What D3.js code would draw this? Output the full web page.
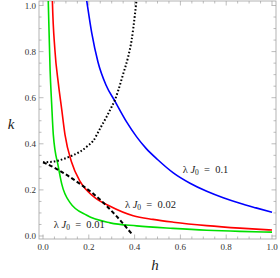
<!DOCTYPE html>
<html>
<head>
    <script src="https://d3js.org/d3.v7.min.js" charset="utf-8"></script>
    <style>
        body { margin: 0; background: #fff; }
    </style>
</head>
<body>
    <script>
        // curves: h values and matching k values
        var greenH = [0.021, 0.023, 0.031, 0.038, 0.045, 0.067, 0.082, 0.118, 0.191, 0.293, 0.409, 0.568, 0.715, 0.86, 1.0];
        var greenK = [1.1, 1.02, 0.72, 0.57, 0.44, 0.3, 0.225, 0.145, 0.09, 0.057, 0.044, 0.033, 0.025, 0.02, 0.017];
        var redH = [0.039, 0.041, 0.052, 0.067, 0.082, 0.096, 0.125, 0.162, 0.22, 0.293, 0.394, 0.48, 0.569, 0.715, 0.86, 1.0];
        var redK = [1.1, 1.02, 0.807, 0.662, 0.547, 0.44, 0.32, 0.237, 0.172, 0.129, 0.088, 0.072, 0.06, 0.045, 0.034, 0.026];
        var blueH = [0.185, 0.191, 0.213, 0.24, 0.275, 0.314, 0.365, 0.409, 0.45, 0.5, 0.569, 0.642, 0.715, 0.787, 0.86, 0.93, 1.0];
        var blueK = [1.06, 1.02, 0.88, 0.755, 0.655, 0.585, 0.495, 0.43, 0.38, 0.332, 0.274, 0.229, 0.194, 0.166, 0.142, 0.122, 0.103];
        var dotH = [0.0, 0.04, 0.089, 0.13, 0.162, 0.2, 0.22, 0.249, 0.278, 0.3, 0.314, 0.329, 0.351, 0.372, 0.387, 0.402, 0.409];
        var dotK = [0.32, 0.322, 0.334, 0.35, 0.366, 0.395, 0.414, 0.466, 0.518, 0.561, 0.59, 0.633, 0.706, 0.778, 0.85, 0.966, 1.03];
        var dashH = [0.0, 0.05, 0.09, 0.163, 0.22, 0.25, 0.322, 0.387];
        var dashK = [0.32, 0.296, 0.273, 0.225, 0.183, 0.157, 0.085, 0.01];

        var labelText = ["0.01", "0.02", "0.1"];
        var labelH = [0.047, 0.358, 0.61];
        var labelK = [0.05, 0.137, 0.287];
        var majorTicks = [0, 0.2, 0.4, 0.6, 0.8, 1.0];
        var minorTicks = d3.range(0, 21).map(function (i) { return i / 20; });

        var serif = "'Liberation Serif', 'Times New Roman', Times, 'DejaVu Serif', serif";
        var W = 280, H = 278;
        var fx = 39, fy = 1, fw = 237, fh = 238;

        var x = d3.scaleLinear().domain([0, 1]).range([43, 272]);
        var y = d3.scaleLinear().domain([0, 1]).range([236, 5.5]);

        var svg = d3.select("body").append("svg")
            .attr("width", W)
            .attr("height", H)
            .attr("font-family", serif);

        svg.append("defs").append("clipPath").attr("id", "clip")
            .append("rect").attr("x", fx).attr("y", fy).attr("width", fw).attr("height", fh);

        var frameColor = "#a0a0a0";

        // ticks on all four sides, pointing inward
        var tg = svg.append("g").attr("stroke", frameColor).attr("stroke-width", 0.7);
        minorTicks.forEach(function (t) {
            var major = majorTicks.some(function (m) { return Math.abs(m - t) < 1e-9; });
            var len = major ? 4.5 : 2.5;
            tg.append("line").attr("x1", x(t)).attr("x2", x(t)).attr("y1", fy + fh).attr("y2", fy + fh - len);
            tg.append("line").attr("x1", x(t)).attr("x2", x(t)).attr("y1", fy).attr("y2", fy + len);
            tg.append("line").attr("y1", y(t)).attr("y2", y(t)).attr("x1", fx).attr("x2", fx + len);
            tg.append("line").attr("y1", y(t)).attr("y2", y(t)).attr("x1", fx + fw).attr("x2", fx + fw - len);
        });

        svg.append("rect")
            .attr("x", fx).attr("y", fy).attr("width", fw).attr("height", fh)
            .attr("fill", "none").attr("stroke", frameColor).attr("stroke-width", 0.8);

        svg.selectAll(".xl").data(majorTicks).enter().append("text")
            .attr("x", function (d) { return x(d); })
            .attr("y", 250)
            .attr("text-anchor", "middle")
            .attr("font-size", 9)
            .attr("fill", "#333")
            .text(function (d) { return d.toFixed(1); });

        svg.selectAll(".yl").data(majorTicks).enter().append("text")
            .attr("x", 36)
            .attr("y", function (d) { return y(d) + 3.2; })
            .attr("text-anchor", "end")
            .attr("font-size", 9)
            .attr("fill", "#333")
            .text(function (d) { return d.toFixed(1); });

        svg.append("text").attr("x", 155).attr("y", 270)
            .attr("text-anchor", "middle").attr("font-size", 15).attr("font-style", "italic")
            .attr("fill", "#222").text("h");
        svg.append("text").attr("x", 11).attr("y", 129)
            .attr("text-anchor", "middle").attr("font-size", 15).attr("font-style", "italic")
            .attr("fill", "#222").text("k");

        var line = d3.line()
            .x(function (d) { return x(d[0]); })
            .y(function (d) { return y(d[1]); })
            .curve(d3.curveMonotoneX);

        var plot = svg.append("g").attr("clip-path", "url(#clip)");

        function draw(hs, ks, color, width, dash) {
            var pts = hs.map(function (h, i) { return [h, ks[i]]; });
            var p = plot.append("path").datum(pts)
                .attr("d", line)
                .attr("fill", "none")
                .attr("stroke", color)
                .attr("stroke-width", width);
            if (dash) p.attr("stroke-dasharray", dash);
        }

        draw(greenH, greenK, "#00e000", 1.6);
        draw(redH, redK, "#ff0000", 1.6);
        draw(blueH, blueK, "#0000ff", 1.6);
        draw(dotH, dotK, "#000", 2, "1.6,2");
        draw(dashH, dashK, "#000", 2, "4,2.5");

        // curve labels
        labelText.forEach(function (t, i) {
            var tx = svg.append("text")
                .attr("x", x(labelH[i]))
                .attr("y", y(labelK[i]) + 3.5)
                .attr("font-size", 10.5)
                .attr("fill", "#222")
                .attr("xml:space", "preserve");
            tx.append("tspan").text("λ ");
            tx.append("tspan").attr("font-style", "italic").text("J");
            tx.append("tspan").attr("font-size", 7.5).attr("dy", 2).text("0");
            tx.append("tspan").attr("dy", -2).text("  =  " + t);
        });
    </script>
</body>
</html>
